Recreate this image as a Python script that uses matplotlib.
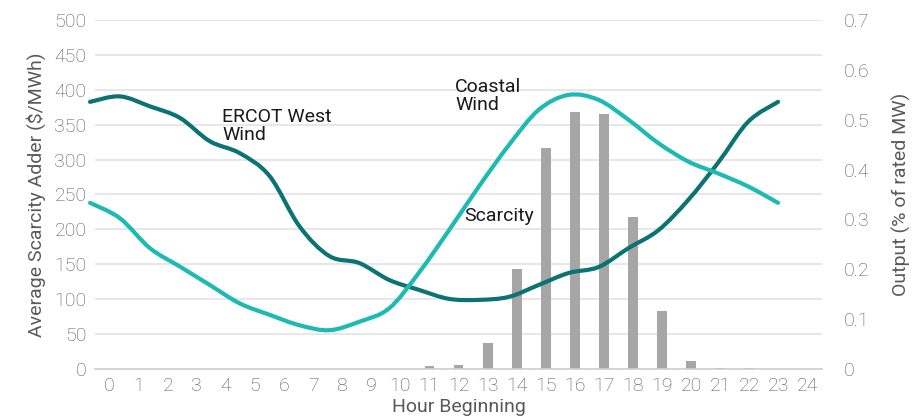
import matplotlib
matplotlib.use("Agg")
import matplotlib.pyplot as plt
from matplotlib.path import Path
from matplotlib.patches import PathPatch

plt.rcParams['font.family'] = ['Roboto', 'DejaVu Sans']
plt.rcParams['font.weight'] = 'light'

hours = list(range(25))
scarcity = [0, 0, 0, 0, 0, 0, 0, 0, 0, 0, 0, 3, 5, 37, 143, 317, 369, 365, 217, 82, 11, 1, 1, 0, 0]

line_hours = list(range(24))
ercot_west = [0.536, 0.547, 0.527, 0.504, 0.457, 0.433, 0.387, 0.286, 0.226, 0.212,
              0.178, 0.158, 0.140, 0.138, 0.144, 0.168, 0.192, 0.204, 0.242, 0.278,
              0.339, 0.414, 0.496, 0.536]
coastal = [0.333, 0.302, 0.242, 0.205, 0.168, 0.131, 0.108, 0.087, 0.077, 0.094,
           0.121, 0.193, 0.278, 0.366, 0.449, 0.520, 0.550, 0.540, 0.500, 0.453,
           0.416, 0.392, 0.366, 0.333]

grey_txt = '#595959'
dark = '#0b7373'
light = '#1cbab3'


def smooth_path(xs, ys):
    # excel-like smoothed line: bezier segments through each point
    verts = [(xs[0], ys[0])]
    codes = [Path.MOVETO]
    n = len(xs)
    for i in range(n - 1):
        x0, y0 = xs[max(i - 1, 0)], ys[max(i - 1, 0)]
        x1, y1 = xs[i], ys[i]
        x2, y2 = xs[i + 1], ys[i + 1]
        x3, y3 = xs[min(i + 2, n - 1)], ys[min(i + 2, n - 1)]
        c1 = (x1 + (x2 - x0) / 6, y1 + (y2 - y0) / 6)
        c2 = (x2 - (x3 - x1) / 6, y2 - (y3 - y1) / 6)
        verts += [c1, c2, (x2, y2)]
        codes += [Path.CURVE4] * 3
    return Path(verts, codes)


fig = plt.figure(figsize=(9.2, 4.2), dpi=100)
pos = [0.1033, 0.1226, 0.7902, 0.8291]
ax = fig.add_axes(pos)

ax.bar(hours, scarcity, width=0.34, color='#a6a6a6', zorder=2)
ax.set_xlim(-0.5, 24.5)
ax.set_ylim(0, 500)
ax.set_yticks(range(0, 501, 50))
ax.set_xticks(hours)
ax.grid(axis='y', color='#e3e3e3', linewidth=1.2, zorder=0)
ax.set_axisbelow(True)
for s in ['top', 'right', 'left']:
    ax.spines[s].set_visible(False)
ax.spines['bottom'].set_color('#d0d0d0')
ax.spines['bottom'].set_linewidth(1.2)
ax.tick_params(length=0, labelsize=14, labelcolor=grey_txt, pad=6)
ax.set_xlabel('Hour Beginning', fontsize=14, color=grey_txt, labelpad=2)
ax.set_ylabel('Average Scarcity Adder ($/MWh)', fontsize=14, color=grey_txt, labelpad=6)

# lines on their own axes (x offset like the source chart)
ax2 = fig.add_axes(pos, frameon=False)
for series, col in [(ercot_west, dark), (coastal, light)]:
    patch = PathPatch(smooth_path(line_hours, series), facecolor='none', edgecolor=col,
                      linewidth=3, capstyle='round', joinstyle='round', clip_on=False)
    ax2.add_patch(patch)
ax2.set_xlim(0.167, 24.47)
ax2.set_ylim(0, 0.7)
ax2.set_xticks([])
ax2.yaxis.tick_right()
ax2.yaxis.set_label_position('right')
ax2.set_yticks([0, 0.1, 0.2, 0.3, 0.4, 0.5, 0.6, 0.7])
ax2.set_yticklabels(['0', '0.1', '0.2', '0.3', '0.4', '0.5', '0.6', '0.7'])
ax2.tick_params(length=0, labelsize=14, labelcolor=grey_txt, pad=16)
ax2.set_ylabel('Output (% of rated MW)', fontsize=14, color=grey_txt, labelpad=16)

note = dict(fontsize=14, color='#1a1a1a', fontweight='normal', linespacing=1.0)
fig.text(222 / 920, 1 - 108 / 420, 'ERCOT West\nWind', va='top', ha='left', **note)
fig.text(455 / 920, 1 - 78 / 420, 'Coastal\nWind', va='top', ha='left', **note)
fig.text(464 / 920, 1 - 216 / 420, 'Scarcity', va='center', ha='left', **note)

fig.savefig('out.png', dpi=100)
